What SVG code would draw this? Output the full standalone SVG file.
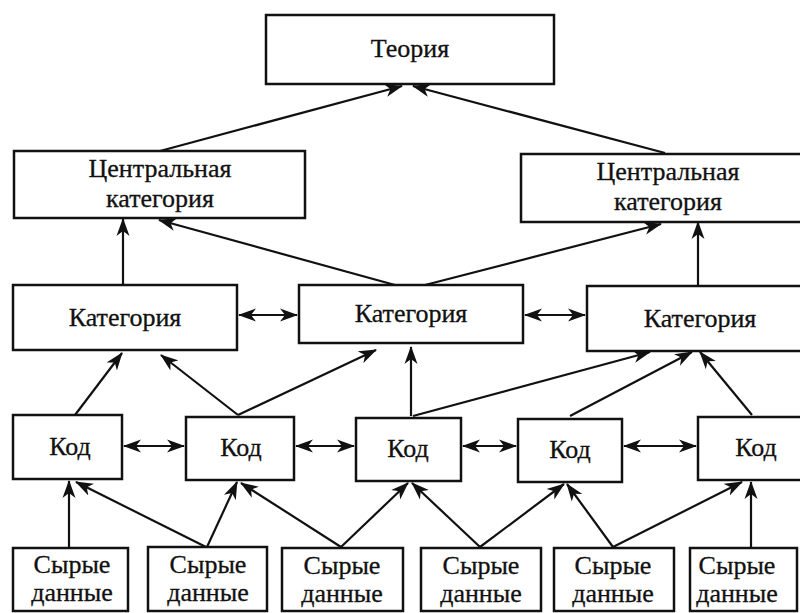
<svg xmlns="http://www.w3.org/2000/svg" width="800" height="613" viewBox="0 0 800 613">
<style>
.box{fill:#fff;stroke:#111;stroke-width:2.5}
.t{font-family:"Liberation Serif","Times New Roman",serif;font-size:26px;fill:#111;stroke:#111;stroke-width:0.3;text-anchor:middle}
.c line{stroke:#111;stroke-width:2.2;marker-end:url(#ah)}
.c line.bi{marker-start:url(#ah)}
</style>
<defs>
<marker id="ah" markerWidth="19" markerHeight="14" refX="17" refY="7" orient="auto-start-reverse" markerUnits="userSpaceOnUse">
<path d="M0,0.5 L18,7 L0,13.5 L5,7 z" fill="#111"/>
</marker>
</defs>
<rect width="800" height="613" fill="#fff"/>
<g class="c" id="connectors">
<line x1="160" y1="151" x2="402" y2="86"/>
<line x1="665" y1="153" x2="413" y2="86"/>
<line x1="123" y1="285" x2="123" y2="219"/>
<line x1="698" y1="286" x2="698" y2="222"/>
<line x1="395" y1="285" x2="159" y2="220"/>
<line x1="425" y1="285" x2="661" y2="224"/>
<line class="bi" x1="239" y1="315" x2="297" y2="315"/>
<line class="bi" x1="525" y1="315" x2="585" y2="315"/>
<line x1="75" y1="415" x2="122" y2="353"/>
<line x1="238" y1="415" x2="161" y2="355"/>
<line x1="238" y1="415" x2="376" y2="350"/>
<line x1="411" y1="416" x2="411" y2="347"/>
<line x1="413" y1="416" x2="650" y2="352"/>
<line x1="570" y1="416" x2="692" y2="352"/>
<line x1="752" y1="415" x2="700" y2="352"/>
<line class="bi" x1="124" y1="446" x2="184" y2="446"/>
<line class="bi" x1="296" y1="446" x2="354" y2="446"/>
<line class="bi" x1="463" y1="446" x2="516" y2="446"/>
<line class="bi" x1="624" y1="446" x2="696" y2="446"/>
<line x1="69" y1="547" x2="69" y2="481"/>
<line x1="206" y1="547" x2="76" y2="482"/>
<line x1="207" y1="547" x2="237" y2="482"/>
<line x1="341" y1="547" x2="241" y2="483"/>
<line x1="341" y1="547" x2="408" y2="483"/>
<line x1="480" y1="547" x2="412" y2="483"/>
<line x1="480" y1="547" x2="564" y2="484"/>
<line x1="613" y1="547" x2="567" y2="484"/>
<line x1="613" y1="547" x2="742" y2="482"/>
<line x1="751" y1="547" x2="751" y2="482"/>
</g>
<g id="theory"><rect class="box" x="266" y="15" width="288" height="69"/><text class="t" x="410" y="57">Теория</text></g>
<g id="central1"><rect class="box" x="14" y="151" width="291" height="67"/><text class="t" x="160" y="177">Центральная</text><text class="t" x="160" y="207">категория</text></g>
<g id="central2"><rect class="box" x="521" y="154" width="292" height="68"/><text class="t" x="668" y="180">Центральная</text><text class="t" x="668" y="210">категория</text></g>
<g id="cat1"><rect class="box" x="13" y="285" width="224" height="65"/><text class="t" x="125" y="326">Категория</text></g>
<g id="cat2"><rect class="box" x="299" y="285" width="224" height="58"/><text class="t" x="411" y="322">Категория</text></g>
<g id="cat3"><rect class="box" x="587" y="286" width="226" height="65"/><text class="t" x="700" y="327">Категория</text></g>
<g id="code1"><rect class="box" x="13" y="415" width="109" height="64"/><text class="t" x="70" y="455">Код</text></g>
<g id="code2"><rect class="box" x="186" y="417" width="108" height="63"/><text class="t" x="241" y="456">Код</text></g>
<g id="code3"><rect class="box" x="356" y="418" width="105" height="63"/><text class="t" x="408" y="457">Код</text></g>
<g id="code4"><rect class="box" x="518" y="419" width="104" height="63"/><text class="t" x="570" y="458">Код</text></g>
<g id="code5"><rect class="box" x="698" y="417" width="115" height="63"/><text class="t" x="756" y="456">Код</text></g>
<g id="raw1"><rect class="box" x="13" y="548" width="115" height="63"/><text class="t" x="72" y="573">Сырые</text><text class="t" x="72" y="601">данные</text></g>
<g id="raw2"><rect class="box" x="148" y="547" width="119" height="64"/><text class="t" x="208" y="573">Сырые</text><text class="t" x="208" y="601">данные</text></g>
<g id="raw3"><rect class="box" x="282" y="548" width="121" height="63"/><text class="t" x="342" y="574">Сырые</text><text class="t" x="342" y="602">данные</text></g>
<g id="raw4"><rect class="box" x="421" y="548" width="120" height="63"/><text class="t" x="481" y="574">Сырые</text><text class="t" x="481" y="602">данные</text></g>
<g id="raw5"><rect class="box" x="554" y="548" width="120" height="63"/><text class="t" x="613" y="574">Сырые</text><text class="t" x="613" y="602">данные</text></g>
<g id="raw6"><rect class="box" x="690" y="548" width="107" height="63"/><text class="t" x="737" y="574">Сырые</text><text class="t" x="737" y="602">данные</text></g>
</svg>
